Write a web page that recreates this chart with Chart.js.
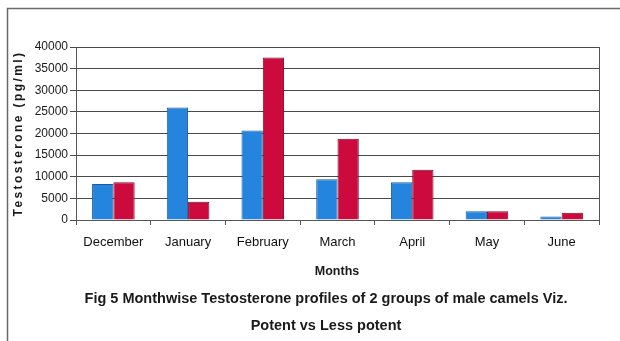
<!DOCTYPE html>
<html>
<head>
<meta charset="utf-8">
<script src="https://cdn.jsdelivr.net/npm/chart.js@4"></script>
<style>
  body { margin: 0; background: #fff; }
</style>
</head>
<body>
<canvas id="testoChart" width="620" height="341"></canvas>
<script>
// months and the two groups of camels
var months = ["December", "January", "February", "March", "April", "May", "June"];
var potent = [8300, 26000, 20700, 9400, 8700, 2000, 800];
var lessPotent = [8700, 4200, 37600, 18800, 11600, 2000, 1700];
var yTicks = [0, 5000, 10000, 15000, 20000, 25000, 30000, 35000, 40000];

var tickFont = "'Liberation Sans', Arial, sans-serif";

// frame, axis titles and the caption under the chart
var textPlugin = {
    id: 'figText',
    beforeDraw: function(chart) {
        var c = chart.ctx;
        c.save();
        c.fillStyle = '#fff';
        c.fillRect(0, 0, chart.width, chart.height);
        c.strokeStyle = '#6a6a6a';
        c.lineWidth = 1.5;
        c.beginPath();
        c.moveTo(7.5, 341);
        c.lineTo(7.5, 8.5);
        c.lineTo(620, 8.5);
        c.stroke();
        c.restore();
    },
    afterDraw: function(chart) {
        var c = chart.ctx;
        var a = chart.chartArea;
        c.save();
        // right border of plot area
        c.strokeStyle = '#555';
        c.lineWidth = 1;
        c.beginPath();
        c.moveTo(a.right + 0.5, a.top);
        c.lineTo(a.right + 0.5, a.bottom);
        c.stroke();

        c.fillStyle = '#1a1a1a';
        c.textAlign = 'center';
        c.textBaseline = 'middle';

        // y title
        c.save();
        c.translate(19, (a.top + a.bottom) / 2);
        c.rotate(-Math.PI / 2);
        c.font = "bold 12px " + tickFont;
        c.letterSpacing = '2.4px';
        c.fillText("Testosterone (pg/ml)", 0, 0);
        c.restore();

        c.font = "bold 12.5px " + tickFont;
        c.fillText("Months", 337, 272);

        c.font = "bold 14.5px " + tickFont;
        c.fillText("Fig 5 Monthwise Testosterone profiles of 2 groups of male camels Viz.", 326, 299, 483);
        c.fillText("Potent vs Less potent", 326, 326, 151);
        c.restore();
    }
};

new Chart(document.getElementById('testoChart').getContext('2d'), {
    type: 'bar',
    data: {
        labels: months,
        datasets: [{
            label: "Potent",
            data: potent,
            backgroundColor: '#2484de',
            borderColor: '#1b5e9e',
            borderWidth: 1,
            categoryPercentage: 0.57,
            barPercentage: 1
        }, {
            label: "Less potent",
            data: lessPotent,
            backgroundColor: '#cc0a3e',
            borderColor: '#7a0a25',
            borderWidth: 1,
            categoryPercentage: 0.57,
            barPercentage: 1
        }]
    },
    options: {
        responsive: false,
        animation: false,
        layout: { padding: { left: 0, top: 47, right: 21, bottom: 0 } },
        plugins: {
            legend: { display: false },
            tooltip: { enabled: false }
        },
        scales: {
            x: {
                grid: { display: true, drawOnChartArea: false, drawTicks: true, tickLength: 5, color: '#555', offset: true },
                border: { color: '#555', width: 1 },
                ticks: {
                    padding: 10,
                    color: '#111',
                    font: { family: tickFont, size: 13 }
                },
                afterFit: function(scale) { scale.height = 121; }
            },
            y: {
                min: 0,
                max: 40000,
                afterBuildTicks: function(scale) {
                    scale.ticks = yTicks.map(function(v) { return { value: v }; });
                },
                grid: { color: '#4a4a4a', lineWidth: 1, tickLength: 6 },
                border: { color: '#555', width: 1 },
                ticks: {
                    padding: 2,
                    color: '#1a1a1a',
                    font: { family: tickFont, size: 12 },
                    callback: function(v) { return String(v); }
                },
                afterFit: function(scale) { scale.width = 76; }
            }
        }
    },
    plugins: [textPlugin]
});
</script>
</body>
</html>
